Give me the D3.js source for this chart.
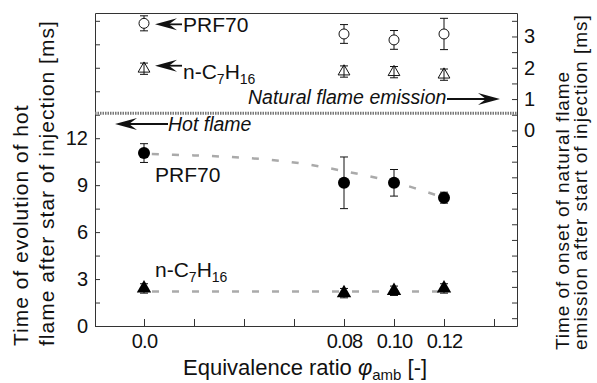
<!DOCTYPE html>
<html>
<head>
<meta charset="utf-8">
<script src="https://cdn.jsdelivr.net/npm/d3@7"></script>
<style>
  body { margin: 0; background: #fff; }
  text { font-family: "Liberation Sans", Arial, sans-serif; fill: #111; }
</style>
</head>
<body>
<script>
// equivalence ratio of the measured points
var phi = [0, 0.08, 0.10, 0.12];

// hot flame (left axis, ms)
var prfHot    = [11.05, 9.15, 9.15, 8.2];
var prfHotErr = [0.6, 1.65, 0.85, 0.35];
var hepHot    = [2.4, 2.1, 2.25, 2.4];
var hepHotErr = [0.3, 0.3, 0.3, 0.3];

// natural flame emission (right axis, ms)
var prfNat    = [3.42, 3.08, 2.89, 3.08];
var prfNatErr = [0.24, 0.3, 0.3, 0.5];
var hepNat    = [1.97, 1.88, 1.86, 1.78];
var hepNatErr = [0.18, 0.18, 0.18, 0.18];

// dotted trend lines
var prfFitPhi = [0, 0.02, 0.04, 0.06, 0.08, 0.10, 0.12];
var prfFit    = [11.0, 10.9, 10.75, 10.45, 9.9, 9.2, 8.2];
var hepFitPhi = [0, 0.12];
var hepFit    = [2.2, 2.2];
var naturalLevel = 13.6;   // left-axis value of the separating band

var xTicks  = [0, 0.02, 0.04, 0.06, 0.08, 0.10, 0.12, 0.14];
var xLabels = {"0": "0.0", "0.08": "0.08", "0.1": "0.10", "0.12": "0.12"};
var yLTicks = d3.range(0, 20, 1.5);
var yLLabels = [0, 3, 6, 9, 12];
var yRTicks = d3.range(-6, 4, 0.5);
var yRLabels = [0, 1, 2, 3];

var width = 597,
    height = 383,
    mLeft = 95, mRight = 517, mTop = 13, mBottom = 326;

var x = d3.scaleLinear().domain([-0.0196, 0.1492]).range([mLeft, mRight]);
var yL = d3.scaleLinear().domain([0, 20]).range([mBottom, mTop]);
var yR = d3.scaleLinear().domain([-6.25, 3.75]).range([mBottom, mTop]);

var svg = d3.select("body").append("svg")
    .attr("width", width)
    .attr("height", height);

// axes, ticks point inwards
function styleAxis(g) {
  g.selectAll("path, line").attr("stroke", "#333").attr("stroke-width", 1);
  g.selectAll("text").attr("font-size", 20).attr("fill", "#111")
    .attr("font-family", "Liberation Sans, Arial, sans-serif");
}

svg.append("g")
    .attr("transform", "translate(0," + mBottom + ")")
    .call(d3.axisBottom(x).tickValues(xTicks).tickSizeInner(-7).tickSizeOuter(0).tickPadding(8)
      .tickFormat(function(d) { return xLabels[String(+d.toFixed(2))] || ""; }))
    .call(styleAxis)
    .selectAll("text").attr("letter-spacing", -0.8);

svg.append("g")
    .attr("transform", "translate(0," + mTop + ")")
    .call(d3.axisTop(x).tickValues([]).tickSizeOuter(0))
    .call(styleAxis);

svg.append("g")
    .attr("transform", "translate(" + mLeft + ",0)")
    .call(d3.axisLeft(yL).tickValues(yLTicks).tickSizeInner(-5).tickSizeOuter(0).tickPadding(7)
      .tickFormat(function(d) { return yLLabels.indexOf(d) >= 0 ? d : ""; }))
    .call(styleAxis);

svg.append("g")
    .attr("transform", "translate(" + mRight + ",0)")
    .call(d3.axisRight(yR).tickValues(yRTicks).tickSizeInner(-5).tickSizeOuter(0).tickPadding(7)
      .tickFormat(function(d) { return yRLabels.indexOf(d) >= 0 ? d : ""; }))
    .call(styleAxis);

// band between hot flame and natural flame parts
svg.append("line")
    .attr("x1", mLeft).attr("x2", mRight)
    .attr("y1", yL(naturalLevel)).attr("y2", yL(naturalLevel))
    .attr("stroke", "#777")
    .attr("stroke-width", 3)
    .attr("stroke-dasharray", "1.5,1");

// trend lines
var fitLine = d3.line().curve(d3.curveCatmullRom)
    .x(function(d) { return x(d[0]); })
    .y(function(d) { return yL(d[1]); });

svg.append("path")
    .datum(d3.zip(prfFitPhi, prfFit))
    .attr("d", fitLine)
    .attr("fill", "none").attr("stroke", "#aaa").attr("stroke-width", 2.5)
    .attr("stroke-dasharray", "7,13").attr("stroke-dashoffset", -8);

svg.append("path")
    .datum(d3.zip(hepFitPhi, hepFit))
    .attr("d", fitLine)
    .attr("fill", "none").attr("stroke", "#aaa").attr("stroke-width", 2.5)
    .attr("stroke-dasharray", "7,13").attr("stroke-dashoffset", -8);

// error bars
function errorBars(vals, errs, y) {
  var g = svg.append("g").attr("stroke", "#111").attr("stroke-width", 1);
  phi.forEach(function(p, i) {
    var cx = x(p), y1 = y(vals[i] + errs[i]), y2 = y(vals[i] - errs[i]);
    g.append("line").attr("x1", cx).attr("x2", cx).attr("y1", y1).attr("y2", y2);
    g.append("line").attr("x1", cx - 4).attr("x2", cx + 4).attr("y1", y1).attr("y2", y1);
    g.append("line").attr("x1", cx - 4).attr("x2", cx + 4).attr("y1", y2).attr("y2", y2);
  });
}
errorBars(prfHot, prfHotErr, yL);
errorBars(hepHot, hepHotErr, yL);
errorBars(prfNat, prfNatErr, yR);
errorBars(hepNat, hepNatErr, yR);

// markers
svg.selectAll(".prfhot").data(d3.zip(phi, prfHot)).enter().append("circle")
    .attr("cx", function(d) { return x(d[0]); })
    .attr("cy", function(d) { return yL(d[1]); })
    .attr("r", 6).attr("fill", "#000");

svg.selectAll(".hephot").data(d3.zip(phi, hepHot)).enter().append("path")
    .attr("d", d3.symbol(d3.symbolTriangle, 90))
    .attr("transform", function(d) { return "translate(" + x(d[0]) + "," + yL(d[1]) + ")"; })
    .attr("fill", "#000");

svg.selectAll(".prfnat").data(d3.zip(phi, prfNat)).enter().append("circle")
    .attr("cx", function(d) { return x(d[0]); })
    .attr("cy", function(d) { return yR(d[1]); })
    .attr("r", 5).attr("fill", "#fff").attr("stroke", "#111").attr("stroke-width", 1);

svg.selectAll(".hepnat").data(d3.zip(phi, hepNat)).enter().append("path")
    .attr("d", d3.symbol(d3.symbolTriangle, 60))
    .attr("transform", function(d) { return "translate(" + x(d[0]) + "," + yR(d[1]) + ")"; })
    .attr("fill", "none").attr("stroke", "#111").attr("stroke-width", 1);

// arrows
function arrow(xTip, xTail, y) {
  var d = xTail > xTip ? 1 : -1, L = 22, w = 6;
  svg.append("line")
      .attr("x1", xTip + d * (L - 8)).attr("x2", xTail)
      .attr("y1", y).attr("y2", y)
      .attr("stroke", "#111").attr("stroke-width", 1.8);
  svg.append("path")
      .attr("d", "M" + xTip + "," + y + "L" + (xTip + d * L) + "," + (y - w) +
                 "L" + (xTip + d * (L - 8)) + "," + y + "L" + (xTip + d * L) + "," + (y + w) + "Z")
      .attr("fill", "#111");
}

arrow(x(0) + 11, x(0) + 38, yR(prfNat[0]) + 1);
arrow(x(0) + 11, x(0) + 38, yR(hepNat[0]) - 3);
arrow(115, 168, 124);
arrow(500, 447, 99);

svg.append("text").attr("x", x(0) + 39).attr("y", 32)
    .attr("font-size", 21).text("PRF70");

var t1 = svg.append("text").attr("x", x(0) + 39).attr("y", 79).attr("font-size", 21);
t1.append("tspan").text("n-C");
t1.append("tspan").attr("dy", 5).attr("font-size", 14).text("7");
t1.append("tspan").attr("dy", -5).text("H");
t1.append("tspan").attr("dy", 5).attr("font-size", 14).text("16");

svg.append("text").attr("x", 248).attr("y", 104)
    .attr("font-size", 19.5).attr("font-style", "italic").text("Natural flame emission");

svg.append("text").attr("x", 168).attr("y", 131)
    .attr("font-size", 19.5).attr("font-style", "italic").text("Hot flame");

svg.append("text").attr("x", 155).attr("y", 182)
    .attr("font-size", 21).text("PRF70");

var t2 = svg.append("text").attr("x", 155).attr("y", 277).attr("font-size", 21);
t2.append("tspan").text("n-C");
t2.append("tspan").attr("dy", 5).attr("font-size", 14).text("7");
t2.append("tspan").attr("dy", -5).text("H");
t2.append("tspan").attr("dy", 5).attr("font-size", 14).text("16");

// axis titles
svg.append("text").attr("transform", "translate(28,346) rotate(-90)")
    .attr("font-size", 21).attr("letter-spacing", 1).text("Time of evolution of hot");
svg.append("text").attr("transform", "translate(54,346) rotate(-90)")
    .attr("font-size", 21).attr("letter-spacing", 1).text("flame after star of injection [ms]");

svg.append("text").attr("transform", "translate(569,350) rotate(-90)")
    .attr("font-size", 19).attr("letter-spacing", 0.95).text("Time of onset of natural flame");
svg.append("text").attr("transform", "translate(587,350) rotate(-90)")
    .attr("font-size", 19).attr("letter-spacing", 1).text("emission after start of injection [ms]");

var xt = svg.append("text").attr("x", 183).attr("y", 375).attr("font-size", 22);
xt.append("tspan").text("Equivalence ratio ");
xt.append("tspan").attr("font-style", "italic").text("\u03c6");
xt.append("tspan").attr("dy", 5).attr("font-size", 15).text("amb");
xt.append("tspan").attr("dy", -5).text(" [-]");
</script>
</body>
</html>
